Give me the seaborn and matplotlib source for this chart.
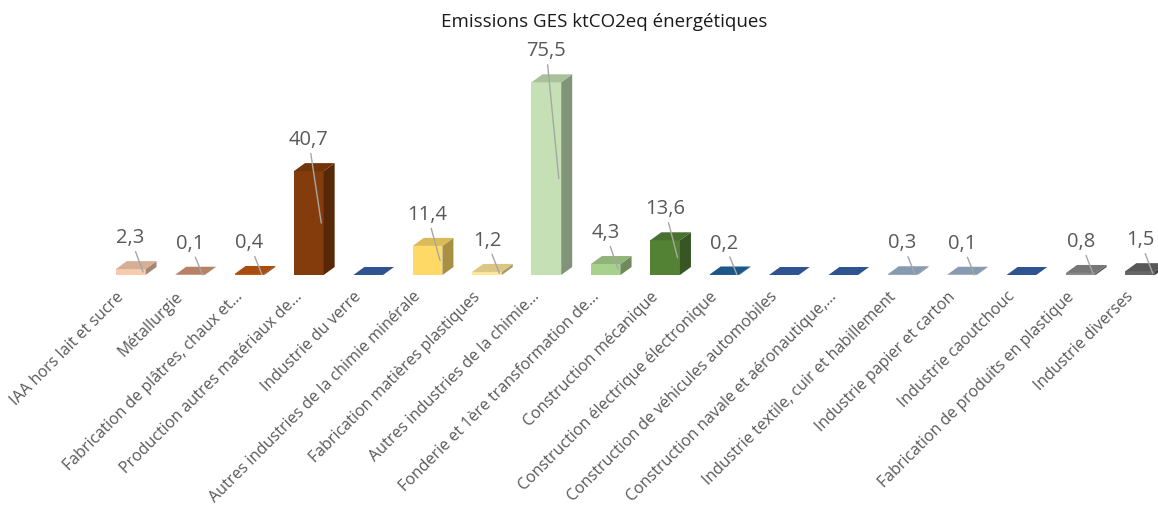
import numpy as np
import pandas as pd
import matplotlib
matplotlib.use('Agg')
import matplotlib.pyplot as plt
import matplotlib.colors as mcolors
from matplotlib.patches import Polygon
from matplotlib.transforms import offset_copy, ScaledTranslation
import seaborn as sns

# data (None = no label shown, flat bar)
categories = [
    'IAA hors lait et sucre',
    'Métallurgie',
    'Fabrication de plâtres, chaux et...',
    'Production autres matériaux de...',
    'Industrie du verre',
    'Autres industries de la chimie minérale',
    'Fabrication matières plastiques',
    'Autres industries de la chimie...',
    'Fonderie et 1ère transformation de...',
    'Construction mécanique',
    'Construction électrique électronique',
    'Construction de véhicules automobiles',
    'Construction navale et aéronautique,...',
    'Industrie textile, cuir et habillement',
    'Industrie papier et carton',
    'Industrie caoutchouc',
    'Fabrication de produits en plastique',
    'Industrie diverses',
]
values = [2.3, 0.1, 0.4, 40.7, None, 11.4, 1.2, 75.5, 4.3, 13.6,
          0.2, None, None, 0.3, 0.1, None, 0.8, 1.5]
bar_colors = ['#F8CBAD', '#D49676', '#C55A11', '#843C0C', '#3560A8',
              '#FFD966', '#FFE699', '#C5E0B4', '#A9D18E', '#548235',
              '#22649F', '#3560A8', '#3560A8', '#9DB3CB', '#9DB3CB',
              '#3560A8', '#8A8A8A', '#666666']

sns.set_theme(style='white')
plt.rcParams['font.family'] = ['Open Sans', 'DejaVu Sans']

df = pd.DataFrame({'secteur': categories, 'valeur': values})
df['hauteur'] = df['valeur'].fillna(0)

fig = plt.figure(figsize=(11.58, 5.15), dpi=100)
ax = fig.add_axes([0, 0.466, 1, 0.456])
sns.barplot(data=df, x='secteur', y='hauteur', hue='secteur', palette=bar_colors,
            legend=False, width=0.5, saturation=1, linewidth=0, ax=ax)
ax.set_xlim(-2.2, 17.3)
ax.set_ylim(0, 92)
sns.despine(ax=ax, left=True, bottom=True)
ax.set_yticks([])
ax.set_xlabel('')
ax.set_ylabel('')

# 3D depth (px -> data units)
inv = ax.transData.inverted()
o = inv.transform((0, 0))
d = inv.transform((11, 8))
dx, dy = d[0] - o[0], d[1] - o[1]

for p in list(ax.patches):
    x, w, h = p.get_x(), p.get_width(), p.get_height()
    i = int(round(x + w / 2))
    base = np.array(mcolors.to_rgb(bar_colors[i]))
    top_c = base * 0.86
    side_c = base * 0.66
    top = Polygon([(x, h), (x + w, h), (x + w + dx, h + dy), (x + dx, h + dy)],
                  closed=True, facecolor=top_c, edgecolor='none', zorder=3)
    side = Polygon([(x + w, 0), (x + w + dx, dy), (x + w + dx, h + dy), (x + w, h)],
                   closed=True, facecolor=side_c, edgecolor='none', zorder=3)
    ax.add_patch(side)
    ax.add_patch(top)

    v = values[i]
    if v is not None:
        ax.annotate(f"{v:.1f}".replace('.', ','),
                    xy=(x + w * 0.92, h / 2), xytext=(x + w / 2, h),
                    textcoords=offset_copy(ax.transData, fig=fig, y=15, units='points'),
                    ha='center', va='bottom', fontsize=14.5, color='#595959',
                    arrowprops=dict(arrowstyle='-', color='#a6a6a6', lw=1,
                                    shrinkA=0, shrinkB=0),
                    zorder=5, annotation_clip=False)

ax.set_xticks(range(len(categories)))
ax.set_xticklabels(categories, rotation=45, ha='right', va='center',
                   rotation_mode='anchor', fontsize=11.5, color='#595959')
ax.tick_params(axis='x', length=0, pad=14)
for lbl in ax.get_xticklabels():
    lbl.set_transform(lbl.get_transform() + ScaledTranslation(-0.09, 0, fig.dpi_scale_trans))

fig.text(0.522, 0.957, 'Emissions GES ktCO2eq énergétiques', ha='center', va='center',
         fontsize=13.5, color='#1a1a1a')

fig.savefig('out.png', dpi=100)
